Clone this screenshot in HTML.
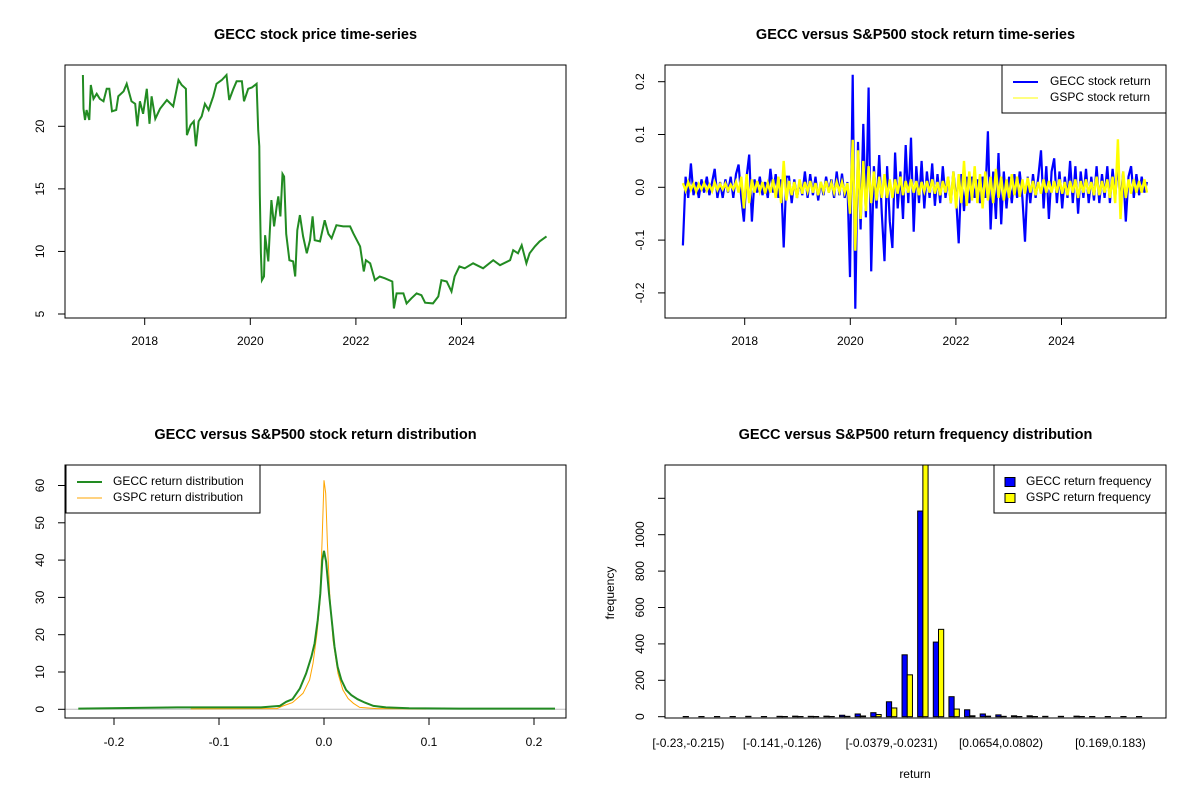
<!DOCTYPE html>
<html><head><meta charset="utf-8"><style>
html,body{margin:0;padding:0;background:#fff;}
svg{display:block;font-family:"Liberation Sans",Arial,sans-serif;}
</style></head><body>
<svg id="chart" width="1200" height="800" viewBox="0 0 1200 800" xmlns="http://www.w3.org/2000/svg">
<rect width="1200" height="800" fill="#fff"/>
</svg>
<script>
// ---------- Panel 1: price ----------
const priceYears = [2016.83,2016.84,2016.87,2016.90,2016.95,2016.98,2017.03,2017.09,2017.15,2017.22,2017.28,2017.33,2017.38,2017.46,2017.50,2017.60,2017.66,2017.75,2017.82,2017.86,2017.91,2017.97,2018.04,2018.09,2018.13,2018.20,2018.29,2018.42,2018.54,2018.64,2018.70,2018.78,2018.80,2018.87,2018.93,2018.97,2019.02,2019.08,2019.14,2019.21,2019.30,2019.36,2019.46,2019.55,2019.60,2019.68,2019.74,2019.84,2019.88,2019.96,2020.03,2020.12,2020.15,2020.17,2020.18,2020.20,2020.22,2020.26,2020.28,2020.34,2020.40,2020.45,2020.50,2020.53,2020.57,2020.61,2020.64,2020.68,2020.74,2020.81,2020.85,2020.89,2020.94,2021.00,2021.07,2021.13,2021.18,2021.22,2021.32,2021.41,2021.48,2021.54,2021.63,2021.76,2021.89,2021.95,2022.08,2022.15,2022.19,2022.27,2022.36,2022.45,2022.55,2022.69,2022.72,2022.77,2022.90,2022.96,2023.05,2023.15,2023.24,2023.31,2023.46,2023.56,2023.62,2023.72,2023.81,2023.87,2023.96,2024.06,2024.22,2024.41,2024.60,2024.73,2024.92,2024.98,2025.07,2025.14,2025.23,2025.29,2025.39,2025.48,2025.61];
const priceValues = [24.1,21.4,20.5,21.3,20.5,23.3,22.2,22.6,22.2,22.0,23.0,23.0,21.2,21.3,22.4,22.8,23.4,22.0,21.8,20.0,22.0,21.0,23.0,20.2,22.4,20.6,21.4,22.1,21.6,23.7,23.3,23.0,19.3,20.1,20.4,18.4,20.4,20.8,21.8,21.3,22.4,23.4,23.7,24.1,22.1,23.0,23.6,23.6,22.0,23.0,23.1,23.4,19.7,18.4,14.6,9.85,7.7,8.0,11.3,9.2,14.1,12.0,13.6,14.4,12.8,16.2,15.98,11.4,9.3,9.2,8.0,11.7,12.9,11.2,9.85,10.9,12.8,10.9,10.8,12.5,11.4,11.05,12.1,12.0,12.0,11.45,10.4,8.4,9.3,9.05,7.7,8.0,7.85,7.6,5.45,6.65,6.65,5.85,6.25,6.65,6.5,5.9,5.85,6.4,7.7,7.6,6.8,8.0,8.8,8.65,9.05,8.65,9.3,8.9,9.3,10.1,9.85,10.5,9.05,9.85,10.4,10.8,11.2];
const priceYTicks = [5,10,15,20];
const yearTicks = [2018,2020,2022,2024];

// ---------- Panel 2: returns ----------
const retStartYear = 2016.83, retEndYear = 2025.62;
const geccReturns = [
-0.11,0.02,-0.02,0.045,-0.015,0.01,-0.02,0.015,-0.01,0.02,-0.015,0.01,0.035,-0.02,0.01,-0.02,0.015,-0.01,0.02,-0.02,
0.025,0.043,-0.02,-0.065,0.02,0.062,-0.065,0.015,-0.01,0.02,-0.015,0.01,-0.02,0.035,-0.01,0.025,-0.02,0.015,-0.114,0.02,
0.02,-0.03,0.015,-0.02,0.01,-0.015,0.03,-0.02,0.025,-0.015,0.02,-0.025,0.01,-0.015,0.02,-0.01,0.015,-0.02,0.03,-0.015,
0.026,-0.02,0.01,-0.17,0.213,-0.23,0.086,-0.08,0.12,-0.057,0.189,-0.159,0.04,-0.04,0.061,-0.05,-0.14,0.04,-0.065,-0.115,
0.066,-0.04,0.03,-0.06,0.08,-0.03,0.094,-0.084,0.04,-0.03,0.05,-0.04,0.03,-0.02,0.045,-0.035,0.025,-0.03,0.04,-0.02,
0.02,-0.03,0.03,-0.02,-0.106,0.025,-0.045,0.02,-0.03,0.02,-0.02,0.015,-0.03,0.02,-0.02,0.106,-0.08,0.03,-0.06,0.065,
-0.07,0.03,-0.04,0.02,-0.03,0.025,-0.02,0.03,-0.02,-0.103,0.02,-0.03,0.025,-0.02,0.02,0.07,-0.04,0.04,-0.06,0.03,
0.055,-0.03,0.03,-0.04,0.02,-0.02,0.05,-0.03,0.04,-0.05,0.03,-0.02,0.035,-0.03,0.02,-0.025,0.04,-0.03,0.025,-0.02,
0.04,-0.03,0.035,-0.02,0.045,-0.03,0.03,-0.065,0.02,0.04,-0.02,0.025,-0.015,0.02,-0.01,0.01];
const gspcReturns = [
0.008,-0.006,0.01,-0.005,0.007,-0.008,0.006,-0.004,0.008,-0.006,0.005,-0.007,0.009,-0.005,0.006,-0.004,0.007,-0.006,0.005,-0.004,
0.01,-0.01,0.02,-0.04,0.025,-0.03,0.015,-0.01,0.012,-0.008,0.01,-0.012,0.008,-0.01,0.015,-0.02,0.02,-0.03,0.05,-0.025,
0.012,-0.015,0.01,-0.02,0.015,-0.012,0.01,-0.008,0.012,-0.01,0.008,-0.015,0.01,-0.008,0.012,-0.01,0.008,-0.01,0.01,-0.008,
0.01,-0.01,0.008,-0.05,0.09,-0.12,0.07,-0.06,0.05,-0.045,0.04,-0.03,0.03,-0.025,0.02,-0.02,0.025,-0.02,0.015,-0.02,
0.015,-0.012,0.02,-0.015,0.012,-0.01,0.015,-0.01,0.012,-0.015,0.01,-0.008,0.012,-0.01,0.015,-0.012,0.01,-0.015,0.012,-0.01,
0.02,-0.03,0.03,-0.04,0.025,-0.03,0.05,-0.035,0.03,-0.025,0.04,-0.03,0.025,-0.04,0.03,-0.025,0.02,-0.03,0.035,-0.02,
0.02,-0.025,0.015,-0.02,0.025,-0.015,0.02,-0.018,0.015,-0.012,0.018,-0.01,0.012,-0.015,0.01,-0.012,0.015,-0.01,0.012,-0.01,
0.012,-0.01,0.015,-0.012,0.01,-0.015,0.012,-0.01,0.015,-0.02,0.012,-0.01,0.015,-0.012,0.01,-0.015,0.02,-0.015,0.012,-0.01,
0.015,-0.02,0.02,-0.03,0.091,-0.06,0.03,-0.02,0.015,-0.012,0.015,-0.01,0.012,-0.01,0.015,-0.01];
const retYTicks = [-0.2,-0.1,0,0.1,0.2];
const retYLabels = ["-0.2","-0.1","0.0","0.1","0.2"];

// ---------- Panel 3: density ----------
const geccDensX = [-0.234,-0.14,-0.1,-0.06,-0.042,-0.036,-0.030,-0.023,-0.017,-0.012,-0.009,-0.006,-0.0035,-0.0016,0,0.002,0.0048,0.007,0.010,0.013,0.0165,0.021,0.026,0.032,0.039,0.047,0.059,0.081,0.129,0.22];
const geccDensY = [0.2,0.5,0.5,0.5,0.9,2.0,2.7,5.6,9.6,14.1,17.7,23.9,31,40,42.5,39.6,31,24.8,16.8,11.4,7.9,5.2,3.8,2.7,1.8,0.9,0.5,0.3,0.2,0.2];
const gspcDensX = [-0.127,-0.045,-0.039,-0.030,-0.020,-0.0137,-0.0105,-0.0067,-0.004,-0.0019,0,0.0016,0.0032,0.0054,0.0086,0.0133,0.018,0.023,0.028,0.034,0.05,0.097];
const gspcDensY = [0.1,0.2,0.9,1.8,4.3,7.9,12.3,20.4,28.4,44.5,61.4,57.9,44.5,31,18.6,9.6,5.2,2.9,1.6,0.5,0.2,0.1];
const densXTicks = [-0.2,-0.1,0,0.1,0.2];
const densXLabels = ["-0.2","-0.1","0.0","0.1","0.2"];
const densYTicks = [0,10,20,30,40,50,60];

// ---------- Panel 4: histogram ----------
const binLabels = ["[-0.23,-0.215)","","","","","","[-0.141,-0.126)","","","","","","","[-0.0379,-0.0231)","","","","","","","[0.0654,0.0802)","","","","","","","[0.169,0.183)","",""];
const geccFreq = [1,1,1,1,2,1,2,3,2,3,8,15,22,82,340,1130,410,110,38,15,10,5,5,2,2,3,1,1,1,1];
const gspcFreq = [0,0,0,0,0,0,1,1,1,1,2,4,12,48,230,1400,480,42,5,3,2,1,1,0,0,1,0,0,0,0];
const freqTicks = [0,200,400,600,800,1000,1200];
const freqLabels = ["0","200","400","600","800","1000",""];

const NS = "http://www.w3.org/2000/svg";
const svg = document.getElementById("chart");
function mk(tag, attrs, parent){
  const e = document.createElementNS(NS, tag);
  for (const k in attrs) e.setAttribute(k, attrs[k]);
  (parent||svg).appendChild(e);
  return e;
}
function lin(d0,d1,r0,r1){ return v => r0 + (v-d0)/(d1-d0)*(r1-r0); }
function txt(x,y,s,opts,parent,name){
  const t = mk("text",{x:x,y:y,"font-size":(opts&&opts.size)||12,"text-anchor":(opts&&opts.anchor)||"middle",fill:"#000"},parent);
  if (opts&&opts.bold) t.setAttribute("font-weight","bold");
  if (opts&&opts.rot) t.setAttribute("transform","rotate(-90 "+x+" "+y+")");
  t.setAttribute("dominant-baseline","middle");
  t.textContent = s;
  
  
  return t;
}
function panel(name, box, title, titleY){
  const g = mk("g",{});
  
  
  txt((box.x0+box.x1)/2, titleY, title, {size:14.5,bold:true}, g, name+"-title");
  return g;
}
function frame(g, box, name){
  const r = mk("rect",{x:box.x0,y:box.y0,width:box.x1-box.x0,height:box.y1-box.y0,fill:"none",stroke:"#000","stroke-width":1},g);
  
  
}
function xAxis(g, box, ticks, labels, sx, name, labelY){
  const a = mk("g",{},g);
  
  
  ticks.forEach((t,i)=>{
    const x = sx(t);
    const l = mk("line",{x1:x,x2:x,y1:box.y1,y2:box.y1+7,stroke:"#000"},a);
    
    
    if (labels[i]) txt(x, labelY||box.y1+24, labels[i], {}, a, "x-tick-label");
  });
  if (ticks.length>1){
    mk("line",{x1:sx(ticks[0]),x2:sx(ticks[ticks.length-1]),y1:box.y1,y2:box.y1,stroke:"#000"},a);
  }
}
function yAxis(g, box, ticks, labels, sy, name){
  const a = mk("g",{},g);
  
  
  ticks.forEach((t,i)=>{
    const y = sy(t);
    const l = mk("line",{x1:box.x0-7,x2:box.x0,y1:y,y2:y,stroke:"#000"},a);
    
    
    if (labels[i]) txt(box.x0-24, y, labels[i], {rot:true}, a, "y-tick-label");
  });
}
function poly(g, xs, ys, sx, sy, color, w, name){
  const pts = xs.map((x,i)=>sx(x).toFixed(1)+","+sy(ys[i]).toFixed(1)).join(" ");
  const p = mk("polyline",{points:pts,fill:"none",stroke:color,"stroke-width":w,"stroke-linejoin":"miter"},g);
  
  
}
function legend(g, lx, ly, w, h, items, name){
  const lg = mk("g",{},g);
  
  
  mk("rect",{x:lx,y:ly,width:w,height:h,fill:"#fff",stroke:"#000"},lg);
  items.forEach((it,i)=>{
    const y = ly+17+i*16;
    if (it.type==="line"){
      mk("line",{x1:lx+11,x2:lx+36,y1:y,y2:y,stroke:it.color,"stroke-width":it.w},lg);
    } else {
      mk("rect",{x:lx+11,y:y-4.5,width:10,height:9,fill:it.color,stroke:"#000"},lg);
    }
    txt(lx+it.tx, y, it.label, {anchor:"start"}, lg, "legend-entry");
  });
}

// Panel 1
(function(){
  const box = {x0:65,x1:566,y0:65,y1:318};
  const g = panel("price-panel", box, "GECC stock price time-series", 35);
  const sx = lin(2018,2020,144.7,250.3), sy = lin(5,20,314,126.3);
  poly(g, priceYears, priceValues, sx, sy, "#228b22", 2, "gecc-price-line");
  frame(g, box, "price-plot-frame");
  xAxis(g, box, yearTicks, yearTicks.map(String), sx, "price-x-axis", 342);
  yAxis(g, box, priceYTicks, priceYTicks.map(String), sy, "price-y-axis");
})();

// Panel 2
(function(){
  const box = {x0:665,x1:1166,y0:65,y1:318};
  const g = panel("returns-panel", box, "GECC versus S&P500 stock return time-series", 35);
  const sx = lin(2018,2020,744.7,850.3), sy = lin(0,0.2,187.3,81.7);
  const n = geccReturns.length;
  const yrs = geccReturns.map((_,i)=> retStartYear + i*(retEndYear-retStartYear)/(n-1));
  const clip = mk("clipPath",{id:"c2"},g);
  mk("rect",{x:box.x0,y:box.y0,width:box.x1-box.x0,height:box.y1-box.y0},clip);
  const inner = mk("g",{"clip-path":"url(#c2)"},g);
  poly(inner, yrs, geccReturns, sx, sy, "#0000ff", 2.2, "gecc-return-line");
  const m = gspcReturns.length;
  const yrs2 = gspcReturns.map((_,i)=> retStartYear + i*(retEndYear-retStartYear)/(m-1));
  poly(inner, yrs2, gspcReturns, sx, sy, "#ffff00", 2.4, "gspc-return-line");
  frame(g, box, "returns-plot-frame");
  xAxis(g, box, yearTicks, yearTicks.map(String), sx, "returns-x-axis", 342);
  yAxis(g, box, retYTicks, retYLabels, sy, "returns-y-axis");
  legend(g, 1002, 65, 164, 48, [
    {type:"line",color:"#0000ff",w:2,label:"GECC stock return",tx:48},
    {type:"line",color:"#ffff00",w:1,label:"GSPC stock return",tx:48}], "returns-legend");
})();

// Panel 3
(function(){
  const box = {x0:65,x1:566,y0:465,y1:718};
  const g = panel("density-panel", box, "GECC versus S&P500 stock return distribution", 435);
  const sx = lin(0,0.1,324,429), sy = lin(0,10,709.3,672);
  const z = mk("line",{x1:box.x0,x2:box.x1,y1:sy(0),y2:sy(0),stroke:"#bebebe"},g);
  
  
  poly(g, gspcDensX, gspcDensY, sx, sy, "#ffa500", 1, "gspc-density-line");
  poly(g, geccDensX, geccDensY, sx, sy, "#228b22", 2, "gecc-density-line");
  frame(g, box, "density-plot-frame");
  xAxis(g, box, densXTicks, densXLabels, sx, "density-x-axis", 743);
  yAxis(g, box, densYTicks, densYTicks.map(String), sy, "density-y-axis");
  legend(g, 66, 465, 194, 48, [
    {type:"line",color:"#228b22",w:2,label:"GECC return distribution",tx:47},
    {type:"line",color:"#ffa500",w:1,label:"GSPC return distribution",tx:47}], "density-legend");
})();

// Panel 4
(function(){
  const box = {x0:665,x1:1166,y0:465,y1:718};
  const g = panel("histogram-panel", box, "GECC versus S&P500 return frequency distribution", 435);
  const u = 5.21, origin = 678;
  const sx = v => origin + v*u;
  const sy = lin(0,200,716.7,680.3);
  const clip = mk("clipPath",{id:"c4"},g);
  mk("rect",{x:box.x0,y:box.y0,width:box.x1-box.x0,height:box.y1-box.y0},clip);
  const inner = mk("g",{"clip-path":"url(#c4)"},g);
  geccFreq.forEach((v,i)=>{
    const b = mk("rect",{x:sx(3*i+1),y:sy(v),width:u,height:sy(0)-sy(v),fill:"#0000ff",stroke:"#000","stroke-width":1},inner);
    
    
  });
  gspcFreq.forEach((v,i)=>{
    const b = mk("rect",{x:sx(3*i+2),y:sy(v),width:u,height:sy(0)-sy(v),fill:"#ffff00",stroke:"#000","stroke-width":1},inner);
    
    
  });
  frame(g, box, "histogram-plot-frame");
  binLabels.forEach((s,i)=>{ if (s) txt(sx(3*i+2), 744, s, {}, g, "bin-label"); });
  yAxis(g, box, freqTicks, freqLabels, sy, "frequency-y-axis");
  txt(915, 775, "return", {}, g, "x-axis-title");
  txt(611, 593, "frequency", {rot:true}, g, "y-axis-title");
  legend(g, 994, 465, 172, 48, [
    {type:"box",color:"#0000ff",label:"GECC return frequency",tx:32},
    {type:"box",color:"#ffff00",label:"GSPC return frequency",tx:32}], "histogram-legend");
})();
</script>
</body></html>
